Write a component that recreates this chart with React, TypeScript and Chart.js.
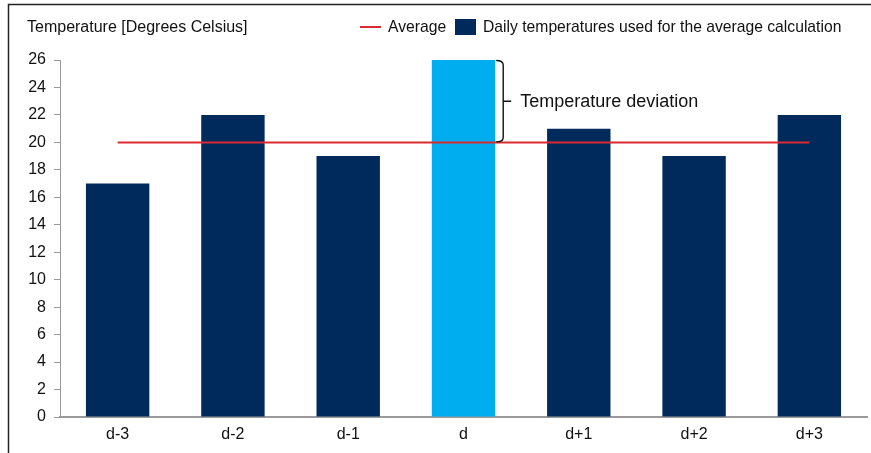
import { useEffect, useRef } from "react";
import { Chart, registerables } from "chart.js";

Chart.register(...registerables);

const categories = ["d-3", "d-2", "d-1", "d", "d+1", "d+2", "d+3"];
const dailyTemps = [17, 22, 19, 26, 21, 19, 22];
const averageTemp = [20, 20, 20, 20, 20, 20, 20];
const highlightIndex = 3;
const yTicks = [0, 2, 4, 6, 8, 10, 12, 14, 16, 18, 20, 22, 24, 26];

const NAVY = "#002A5C";
const SKY = "#00AEEF";
const RED = "#DA2B32";
const FONT = "'Liberation Sans', Arial, sans-serif";

// Frame, axis title, legend and the deviation brace
const decorations = {
  id: "decorations",
  beforeDraw(chart: any) {
    const { ctx, width, height } = chart;
    ctx.save();
    ctx.fillStyle = "#fff";
    ctx.fillRect(0, 0, width, height);
    ctx.strokeStyle = "#222";
    ctx.lineWidth = 1.5;
    ctx.beginPath();
    ctx.moveTo(8.5, height);
    ctx.lineTo(8.5, 4.5);
    ctx.lineTo(width, 4.5);
    ctx.stroke();
    ctx.restore();
  },
  afterDraw(chart: any) {
    const { ctx } = chart;
    const y = chart.scales.y;
    ctx.save();
    ctx.font = `16px ${FONT}`;
    ctx.fillStyle = "#111";
    ctx.textBaseline = "middle";
    ctx.textAlign = "left";
    ctx.fillText("Temperature [Degrees Celsius]", 27, 28);

    // legend
    ctx.font = `15.7px ${FONT}`;
    ctx.strokeStyle = RED;
    ctx.lineWidth = 2;
    ctx.beginPath();
    ctx.moveTo(360, 27);
    ctx.lineTo(381, 27);
    ctx.stroke();
    ctx.fillText("Average", 388, 28);
    ctx.fillStyle = NAVY;
    ctx.fillRect(455, 19, 21, 16);
    ctx.fillStyle = "#111";
    ctx.fillText("Daily temperatures used for the average calculation", 483, 28);

    // brace between the highlighted value and the average
    const meta = chart.getDatasetMeta(1);
    const bar = meta.data[highlightIndex];
    const right = bar.x + bar.width / 2;
    const yTop = y.getPixelForValue(dailyTemps[highlightIndex]);
    const yBot = y.getPixelForValue(averageTemp[highlightIndex]);
    const bx = right + 8;
    const mid = (yTop + yBot) / 2;
    ctx.strokeStyle = "#111";
    ctx.lineWidth = 1.4;
    ctx.beginPath();
    ctx.moveTo(right + 1, yTop + 0.5);
    ctx.quadraticCurveTo(bx, yTop + 0.5, bx, yTop + 5);
    ctx.lineTo(bx, yBot - 5);
    ctx.quadraticCurveTo(bx, yBot - 0.5, right + 1, yBot - 0.5);
    ctx.moveTo(bx, mid);
    ctx.lineTo(bx + 8, mid);
    ctx.stroke();
    ctx.font = `18px ${FONT}`;
    ctx.fillText("Temperature deviation", bx + 17, mid + 1);
    ctx.restore();
  },
};

export default function App() {
  const ref = useRef<HTMLCanvasElement>(null);

  useEffect(() => {
    if (!ref.current) return;
    const chart = new Chart(ref.current, {
      type: "bar",
      data: {
        labels: categories,
        datasets: [
          {
            type: "line",
            label: "Average",
            data: averageTemp,
            borderColor: RED,
            borderWidth: 2,
            pointRadius: 0,
            order: 0,
          } as any,
          {
            type: "bar",
            label: "Daily temperatures used for the average calculation",
            data: dailyTemps,
            backgroundColor: dailyTemps.map((_, i) => (i === highlightIndex ? SKY : NAVY)),
            barPercentage: 0.55,
            categoryPercentage: 1,
            order: 1,
          },
        ],
      },
      options: {
        animation: false,
        responsive: false,
        layout: { padding: { left: 0, top: 60, right: 4, bottom: 0 } },
        plugins: { legend: { display: false }, tooltip: { enabled: false } },
        scales: {
          x: {
            grid: { display: false, drawTicks: false },
            border: { display: true, color: "#9a9a9a", width: 2 },
            ticks: { color: "#111", font: { family: FONT, size: 16 }, padding: 8 },
            afterFit: (s: any) => {
              s.height = 36;
            },
          },
          y: {
            min: 0,
            max: 26,
            afterBuildTicks: (s: any) => {
              s.ticks = yTicks.map((v) => ({ value: v }));
            },
            grid: { drawOnChartArea: false, drawTicks: true, tickLength: 6, color: "#9a9a9a" },
            border: { display: true, color: "#9a9a9a", width: 1 },
            ticks: { color: "#111", font: { family: FONT, size: 16 }, padding: 8 },
            afterFit: (s: any) => {
              s.width = 60;
            },
          },
        },
      },
      plugins: [decorations],
    });
    return () => chart.destroy();
  }, []);

  return (
    <div style={{ position: "fixed", left: 0, top: 0, width: 871, height: 453 }}>
      <canvas ref={ref} width={871} height={453} style={{ display: "block" }} />
    </div>
  );
}
